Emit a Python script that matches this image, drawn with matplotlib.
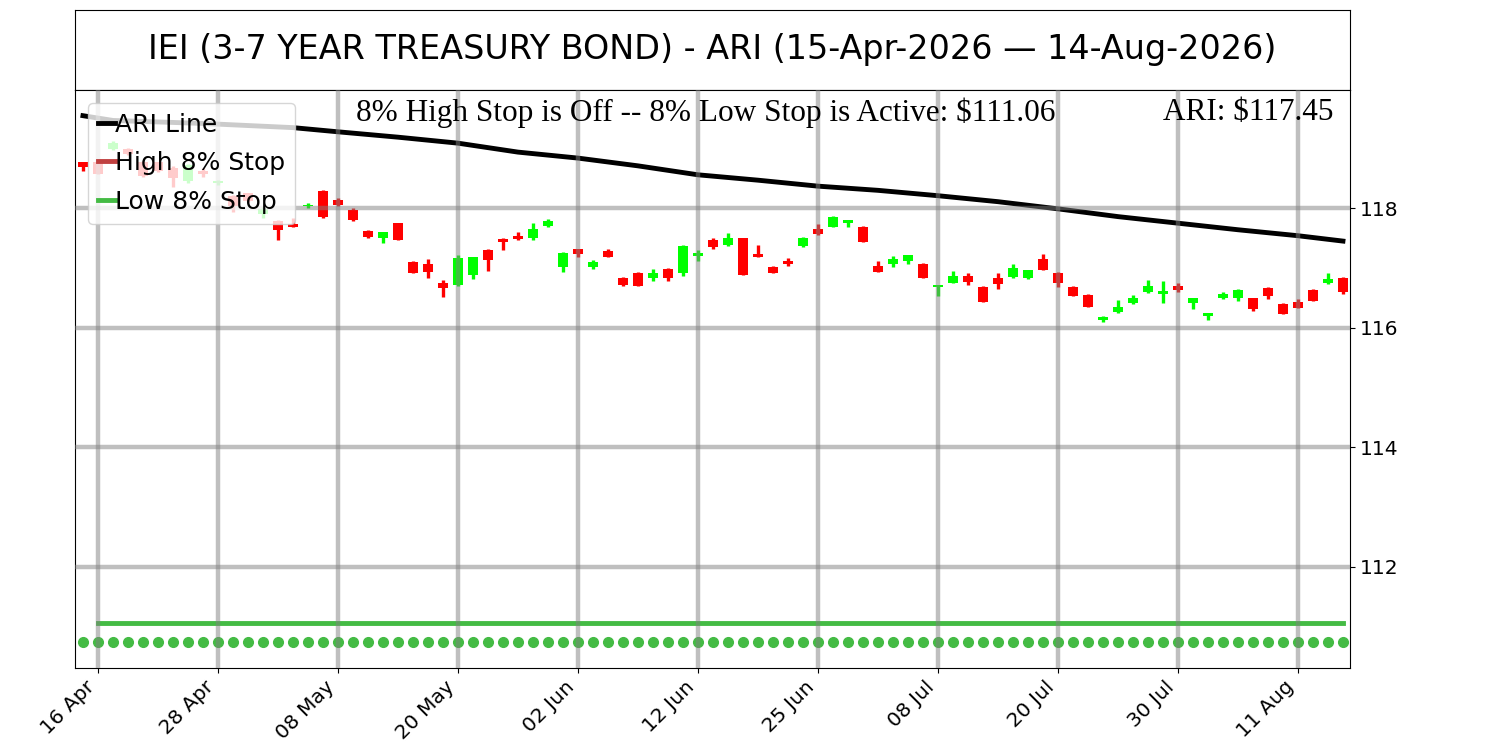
import numpy as np
import matplotlib
matplotlib.use("Agg")
import matplotlib.pyplot as plt
from matplotlib.lines import Line2D

# ==================== Chart data ====================
TITLE = "IEI (3-7 YEAR TREASURY BOND) - ARI (15-Apr-2026 \u2014 14-Aug-2026)"
STATUS_TEXT = "8% High Stop is Off -- 8% Low Stop is Active: $111.06"
ARI_TEXT = "ARI: $117.45"

# trading-day candles, 15-Apr-2026 .. 14-Aug-2026 (85 bars)
opens = [118.77, 118.78, 119.00, 119.00, 118.78, 118.77, 118.67, 118.45, 118.62, 118.42,
         118.20, 118.25, 117.90, 117.79, 117.74, 118.03, 118.29, 118.14, 117.97, 117.62,
         117.51, 117.75, 117.10, 117.07, 116.74, 116.72, 116.89, 117.30, 117.49, 117.54,
         117.50, 117.71, 117.01, 117.31, 117.02, 117.29, 116.83, 116.91, 116.83, 116.98,
         116.91, 117.20, 117.46, 117.38, 117.50, 117.23, 117.02, 117.12, 117.36, 117.66,
         117.69, 117.75, 117.69, 117.03, 117.07, 117.12, 117.07, 116.68, 116.75, 116.86,
         116.68, 116.83, 116.85, 116.84, 117.15, 116.92, 116.68, 116.55, 116.13, 116.26,
         116.41, 116.59, 116.56, 116.70, 116.42, 116.20, 116.50, 116.49, 116.49, 116.66,
         116.40, 116.43, 116.63, 116.74, 116.83]
highs = [118.78, 118.79, 119.13, 119.01, 118.79, 118.78, 118.71, 118.74, 118.67, 118.47,
         118.22, 118.26, 118.02, 117.80, 117.83, 118.08, 118.30, 118.17, 118.00, 117.63,
         117.60, 117.76, 117.12, 117.15, 116.80, 117.22, 117.19, 117.31, 117.50, 117.60,
         117.75, 117.82, 117.26, 117.32, 117.13, 117.32, 116.85, 116.93, 116.98, 117.00,
         117.39, 117.30, 117.50, 117.59, 117.51, 117.39, 117.03, 117.16, 117.52, 117.74,
         117.87, 117.80, 117.70, 117.12, 117.20, 117.22, 117.08, 116.71, 116.95, 116.91,
         116.69, 116.91, 117.07, 116.97, 117.23, 116.93, 116.69, 116.56, 116.20, 116.46,
         116.55, 116.80, 116.78, 116.74, 116.49, 116.24, 116.59, 116.64, 116.50, 116.68,
         116.41, 116.48, 116.64, 116.92, 116.85]
lows = [118.63, 118.57, 118.98, 118.89, 118.53, 118.61, 118.36, 118.43, 118.53, 118.39,
        117.94, 118.10, 117.84, 117.46, 117.68, 118.01, 117.84, 118.04, 117.78, 117.51,
        117.41, 117.46, 116.91, 116.84, 116.52, 116.70, 116.81, 116.95, 117.30, 117.46,
        117.46, 117.68, 116.94, 117.19, 116.98, 117.18, 116.69, 116.69, 116.79, 116.79,
        116.87, 117.11, 117.32, 117.37, 116.88, 117.19, 116.92, 117.04, 117.35, 117.56,
        117.68, 117.69, 117.44, 116.94, 117.02, 117.07, 116.83, 116.53, 116.74, 116.71,
        116.43, 116.65, 116.84, 116.82, 116.97, 116.68, 116.53, 116.35, 116.09, 116.25,
        116.40, 116.58, 116.42, 116.59, 116.31, 116.13, 116.48, 116.45, 116.28, 116.48,
        116.23, 116.33, 116.45, 116.73, 116.56]
closes = [118.69, 118.58, 119.09, 118.90, 118.54, 118.62, 118.50, 118.72, 118.57, 118.46,
          118.04, 118.12, 117.98, 117.64, 117.69, 118.06, 117.85, 118.05, 117.80, 117.52,
          117.60, 117.47, 116.92, 116.94, 116.67, 117.16, 117.18, 117.13, 117.44, 117.48,
          117.65, 117.78, 117.25, 117.23, 117.10, 117.18, 116.72, 116.70, 116.92, 116.84,
          117.37, 117.25, 117.35, 117.51, 116.89, 117.19, 116.92, 117.07, 117.51, 117.57,
          117.85, 117.80, 117.44, 116.94, 117.15, 117.22, 116.83, 116.71, 116.87, 116.76,
          116.43, 116.73, 117.00, 116.97, 116.97, 116.75, 116.53, 116.35, 116.18, 116.35,
          116.49, 116.70, 116.61, 116.63, 116.49, 116.24, 116.57, 116.63, 116.32, 116.53,
          116.23, 116.33, 116.45, 116.81, 116.59]

# ARI line, read at bar indices
ari_idx = [0, 2, 8, 14, 17, 21, 25, 29, 33, 37, 41, 45, 49, 53, 57, 61, 65, 69, 73, 77, 81, 84]
ari_vals = [119.55, 119.47, 119.42, 119.35, 119.28, 119.19, 119.09, 118.94, 118.84, 118.71,
            118.56, 118.47, 118.37, 118.30, 118.21, 118.11, 117.99, 117.86, 117.75, 117.64,
            117.54, 117.45]

LOW_STOP = 111.06
DOT_LEVEL = 110.74

tick_pos = [1, 9, 17, 25, 33, 41, 49, 57, 65, 73, 81]
tick_labels = ["16 Apr", "28 Apr", "08 May", "20 May", "02 Jun", "12 Jun",
               "25 Jun", "08 Jul", "20 Jul", "30 Jul", "11 Aug"]
y_ticks = [112, 114, 116, 118]
# ====================================================

UP_COLOR = "#00ff00"
DOWN_COLOR = "#ff0000"
LOW_COLOR = "#44bb44"
HIGH_COLOR = "#c04040"

fig = plt.figure(figsize=(15, 7.5), dpi=100)

# title box
tax = fig.add_axes([0.05, 0.88, 0.85, 1 - 10 / 750 - 0.88])
tax.set_xticks([])
tax.set_yticks([])
tax.text(0.5, 0.5, TITLE, ha="center", va="center", fontsize=24, transform=tax.transAxes)

ax = fig.add_axes([0.05, 1 - 667.5 / 750, 0.85, 0.88 - (1 - 667.5 / 750)])

n = len(opens)
x = np.arange(n)
o = np.array(opens)
c = np.array(closes)
up = c >= o
colors = np.where(up, UP_COLOR, DOWN_COLOR)

ax.vlines(x, lows, highs, colors=colors, linewidth=2.4, zorder=1)
ax.bar(x, np.abs(c - o), bottom=np.minimum(o, c), width=0.72, color=colors, zorder=1)

ax.plot(ari_idx, ari_vals, color="black", linewidth=3.5, zorder=2)
ax.plot(x[1:], np.full(n - 1, LOW_STOP), color=LOW_COLOR, linewidth=3.5, zorder=2)
ax.plot(x, np.full(n, DOT_LEVEL), "o", color=LOW_COLOR, markersize=7, zorder=2)

ax.set_xlim(-0.53, 84.47)
ax.set_ylim(110.31, 119.98)
ax.yaxis.tick_right()
ax.set_yticks(y_ticks)
ax.set_xticks(tick_pos)
ax.set_xticklabels(tick_labels, rotation=45, ha="right")
ax.tick_params(labelsize=14.5)
ax.set_axisbelow(False)
ax.grid(True, color="gray", alpha=0.5, linewidth=3.2)

ax.text(0.495, 0.987, STATUS_TEXT, transform=ax.transAxes, ha="center", va="top",
        fontsize=22.5, family="Liberation Serif")
ax.text(0.987, 0.987, ARI_TEXT, transform=ax.transAxes, ha="right", va="top",
        fontsize=22.5, family="Liberation Serif")

handles = [Line2D([], [], color="black", linewidth=3.5),
           Line2D([], [], color=HIGH_COLOR, linewidth=3.5),
           Line2D([], [], color=LOW_COLOR, linewidth=3.5)]
ax.legend(handles, ["ARI Line", "High 8% Stop", "Low 8% Stop"], loc="upper left",
          fontsize=18, handlelength=0.7, handletextpad=0.0, borderpad=0.4,
          labelspacing=0.58, borderaxespad=0.5)

fig.savefig("out.png", dpi=100)
